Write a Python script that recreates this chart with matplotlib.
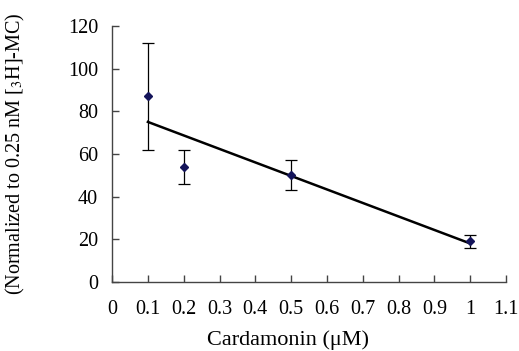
import matplotlib.pyplot as plt

plt.rcParams["font.family"] = "Liberation Serif"
plt.rcParams["mathtext.fontset"] = "stix"

# data
conc = [0.1, 0.2, 0.5, 1.0]
binding = [87, 54, 50, 19]
err = [25, 8, 7, 3]
fit_x = [0.1, 1.0]
fit_y = [75, 18]

x_ticks = [0, 0.1, 0.2, 0.3, 0.4, 0.5, 0.6, 0.7, 0.8, 0.9, 1, 1.1]
x_labels = ["0", "0.1", "0.2", "0.3", "0.4", "0.5", "0.6", "0.7", "0.8", "0.9", "1", "1.1"]
y_ticks = [0, 20, 40, 60, 80, 100, 120]

fs = 14.5

fig = plt.figure(figsize=(5.19, 3.51), dpi=100)
ax = fig.add_axes([0.216, 0.197, 0.759, 0.729])

ax.plot(fit_x, fit_y, color="black", linewidth=1.8, zorder=2)
ax.errorbar(
    conc,
    binding,
    yerr=err,
    fmt="D",
    color="#14145a",
    markersize=4.5,
    ecolor="black",
    elinewidth=0.9,
    capsize=4,
    capthick=0.9,
    zorder=3,
)

ax.set_xlim(0, 1.1)
ax.set_ylim(0, 120)
ax.set_xticks(x_ticks)
ax.set_xticklabels(x_labels)
ax.set_yticks(y_ticks)

for s in ["top", "right"]:
    ax.spines[s].set_visible(False)
for s in ["left", "bottom"]:
    ax.spines[s].set_color("#444444")
    ax.spines[s].set_linewidth(1.0)

ax.tick_params(axis="both", direction="in", length=5, width=1, color="#444444",
               labelsize=fs)
ax.tick_params(axis="x", pad=13)
ax.tick_params(axis="y", pad=10)

ax.set_xlabel("Cardamonin (\u03bcM)", fontsize=16, va="center")
ax.set_ylabel("(Normalized to 0.25 nM [$_3$H]-MC)", fontsize=fs, va="center")
ax.xaxis.set_label_coords(0.447, -0.228)
ax.yaxis.set_label_coords(-0.246, 0.5)

fig.savefig("out.png", dpi=100)
